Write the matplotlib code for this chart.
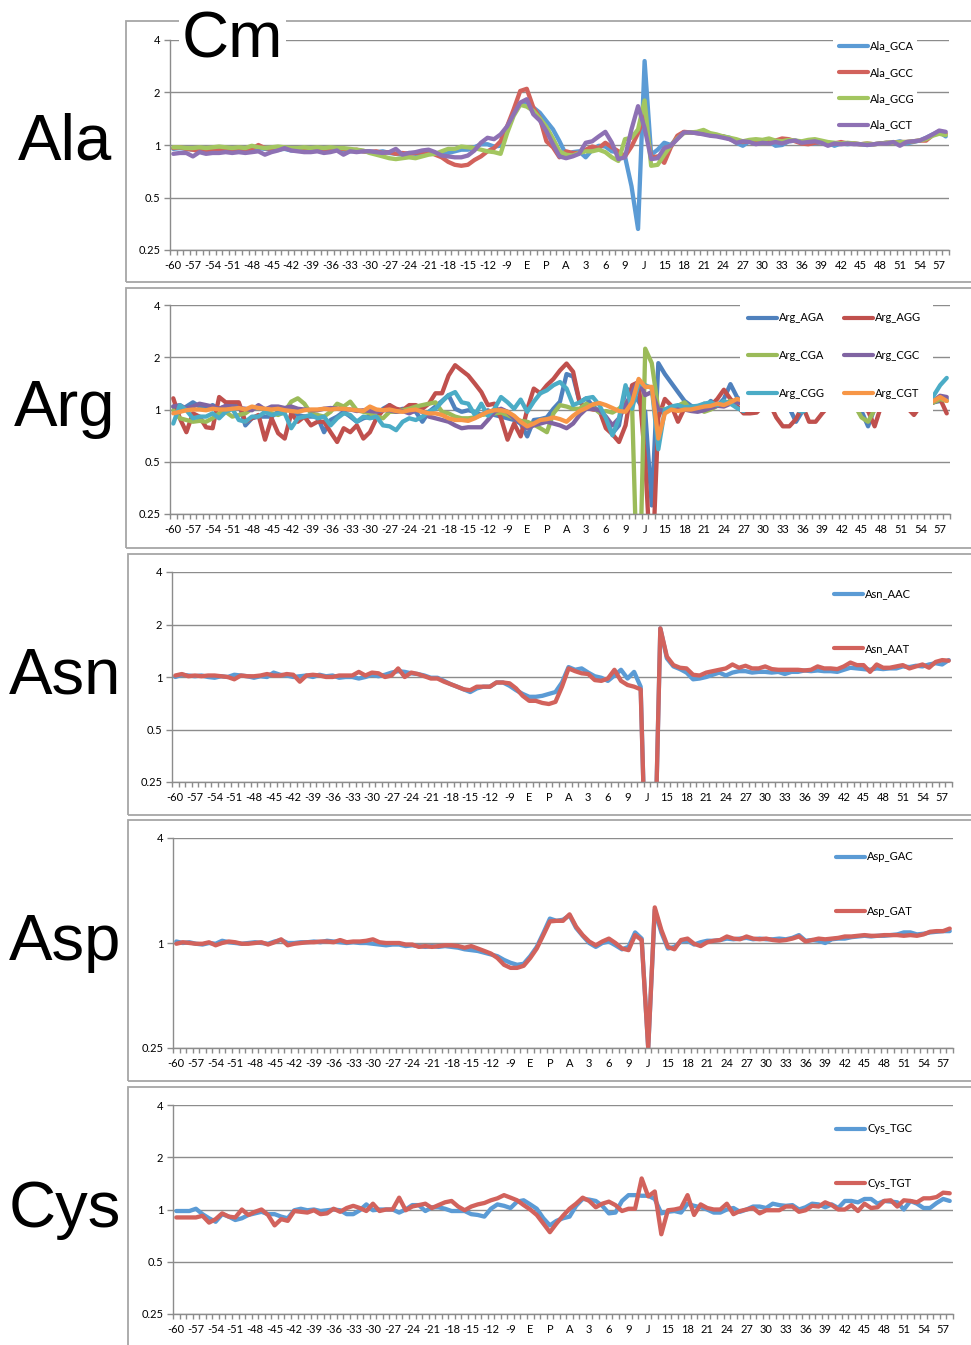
import numpy as np
import matplotlib
matplotlib.use('Agg')
import matplotlib.pyplot as plt
from matplotlib.patches import Rectangle
from matplotlib.ticker import FixedLocator, NullLocator, FuncFormatter

plt.rcParams['font.family'] = ['Lato', 'DejaVu Sans']

W, H = 971, 1345

# x categories: positions -60..58, labelled every third, some sites renamed
positions = list(range(-60, 59))
site_names = {-6: 'E', -3: 'P', 0: 'A', 12: 'J'}
tick_labels = [site_names.get(p, str(p)) for p in positions[::3]]

ala_names = ['Ala_GCA', 'Ala_GCC', 'Ala_GCG', 'Ala_GCT']
ala_gca = [
    0.95, 0.96, 0.95, 0.94, 0.95, 0.94, 0.95, 0.94, 0.95, 0.94,
    0.94, 0.95, 0.95, 0.96, 0.95, 0.94, 0.94, 0.95, 0.93, 0.93,
    0.94, 0.93, 0.94, 0.93, 0.94, 0.95, 0.93, 0.92, 0.93, 0.92,
    0.92, 0.91, 0.92, 0.90, 0.89, 0.88, 0.90, 0.89, 0.88, 0.90,
    0.90, 0.88, 0.90, 0.92, 0.94, 0.94, 0.97, 1.01, 1.01, 0.98,
    0.99, 1.26, 1.52, 1.71, 1.76, 1.64, 1.53, 1.37, 1.23, 1.05,
    0.88, 0.91, 0.92, 0.85, 0.94, 0.99, 0.98, 0.92, 0.91, 0.86,
    0.58, 0.33, 3.03, 0.88, 0.94, 1.03, 1.00, 1.10, 1.18, 1.18,
    1.17, 1.16, 1.15, 1.13, 1.12, 1.10, 1.03, 0.99, 1.05, 1.04,
    1.03, 1.05, 0.99, 1.00, 1.05, 1.06, 1.04, 1.03, 1.02, 1.04,
    1.03, 0.99, 1.02, 1.01, 1.02, 1.01, 1.00, 1.01, 1.02, 1.03,
    1.03, 1.05, 1.02, 1.04, 1.06, 1.10, 1.15, 1.19, 1.12]
ala_gcc = [
    0.96, 0.97, 0.95, 0.94, 0.92, 0.93, 0.94, 0.93, 0.95, 0.94,
    0.93, 0.94, 0.95, 1.00, 0.96, 0.95, 0.94, 0.96, 0.95, 0.94,
    0.93, 0.94, 0.93, 0.94, 0.95, 0.94, 0.95, 0.93, 0.94, 0.92,
    0.91, 0.92, 0.90, 0.91, 0.89, 0.90, 0.89, 0.90, 0.91, 0.92,
    0.88, 0.85, 0.80, 0.77, 0.76, 0.77, 0.82, 0.86, 0.92, 0.96,
    1.05, 1.28, 1.60, 2.04, 2.10, 1.64, 1.43, 1.05, 0.97, 0.85,
    0.92, 0.90, 0.90, 0.94, 0.98, 0.96, 1.03, 0.97, 0.92, 0.86,
    0.98, 1.17, 1.47, 0.85, 0.86, 0.79, 0.97, 1.13, 1.19, 1.18,
    1.17, 1.16, 1.14, 1.13, 1.12, 1.08, 1.05, 1.04, 1.05, 1.04,
    1.05, 1.04, 1.06, 1.09, 1.08, 1.05, 1.02, 1.01, 1.03, 1.04,
    1.03, 1.02, 1.04, 1.02, 1.02, 1.01, 1.02, 1.01, 1.02, 1.03,
    1.03, 1.04, 1.04, 1.05, 1.06, 1.06, 1.14, 1.20, 1.16]
ala_gcg = [
    0.97, 0.97, 0.96, 0.96, 0.97, 0.96, 0.97, 0.98, 0.97, 0.96,
    0.97, 0.96, 0.99, 0.97, 0.96, 0.97, 0.98, 0.97, 0.96, 0.96,
    0.97, 0.96, 0.97, 0.96, 0.97, 0.96, 0.96, 0.95, 0.94, 0.93,
    0.90, 0.88, 0.86, 0.84, 0.83, 0.84, 0.85, 0.84, 0.86, 0.88,
    0.89, 0.92, 0.95, 0.95, 0.98, 0.97, 0.96, 0.94, 0.92, 0.91,
    0.89, 1.17, 1.47, 1.70, 1.66, 1.57, 1.42, 1.27, 1.09, 0.92,
    0.88, 0.87, 0.90, 0.92, 0.92, 0.94, 0.91, 0.85, 0.81, 1.08,
    1.10, 1.23, 1.80, 0.76, 0.77, 0.88, 0.99, 1.09, 1.17, 1.18,
    1.19, 1.22, 1.17, 1.15, 1.12, 1.10, 1.08, 1.05, 1.07, 1.08,
    1.07, 1.09, 1.06, 1.05, 1.07, 1.06, 1.05, 1.07, 1.08, 1.06,
    1.04, 1.03, 1.02, 1.03, 1.02, 1.01, 1.02, 1.01, 1.02, 1.03,
    1.03, 1.04, 1.04, 1.05, 1.06, 1.08, 1.13, 1.16, 1.14]
ala_gct = [
    0.89, 0.90, 0.90, 0.86, 0.91, 0.89, 0.90, 0.90, 0.91, 0.90,
    0.91, 0.90, 0.91, 0.92, 0.88, 0.91, 0.93, 0.96, 0.93, 0.92,
    0.91, 0.91, 0.92, 0.90, 0.91, 0.93, 0.88, 0.92, 0.91, 0.92,
    0.92, 0.91, 0.90, 0.91, 0.95, 0.88, 0.90, 0.91, 0.93, 0.94,
    0.91, 0.87, 0.86, 0.85, 0.85, 0.87, 0.93, 1.03, 1.10, 1.08,
    1.15, 1.28, 1.50, 1.75, 1.83, 1.50, 1.38, 1.20, 1.01, 0.86,
    0.84, 0.86, 0.89, 1.03, 1.05, 1.12, 1.19, 1.03, 0.83, 0.85,
    1.23, 1.67, 1.25, 0.83, 0.84, 0.96, 0.99, 1.08, 1.18, 1.18,
    1.17, 1.15, 1.13, 1.12, 1.10, 1.08, 1.03, 1.05, 1.04, 1.01,
    1.03, 1.02, 1.04, 1.02, 1.05, 1.06, 1.03, 1.04, 1.05, 1.03,
    0.99, 1.02, 1.01, 1.02, 1.01, 1.01, 1.00, 1.01, 1.02, 1.02,
    1.04, 0.99, 1.04, 1.05, 1.06, 1.10, 1.15, 1.21, 1.19]

arg_names = ['Arg_AGA', 'Arg_AGG', 'Arg_CGA', 'Arg_CGC', 'Arg_CGG', 'Arg_CGT']
arg_aga = [
    1.04, 0.97, 1.04, 1.10, 1.04, 1.01, 1.06, 1.01, 1.04, 1.06,
    1.08, 0.81, 0.89, 0.91, 0.91, 0.91, 0.97, 1.01, 0.99, 0.93,
    0.91, 0.91, 0.91, 0.74, 0.87, 0.91, 0.97, 0.91, 0.85, 0.89,
    0.91, 0.89, 1.01, 1.06, 0.97, 1.01, 0.99, 0.97, 0.85, 0.97,
    1.04, 1.12, 1.21, 1.01, 0.97, 0.99, 0.97, 0.93, 0.99, 0.93,
    0.91, 0.89, 0.87, 0.83, 0.70, 0.87, 0.88, 0.90, 1.01, 1.11,
    1.60, 1.55, 1.10, 1.16, 1.05, 0.97, 0.87, 0.73, 0.81, 1.32,
    1.28, 1.11, 0.97, 0.28, 1.85, 1.60, 1.42, 1.26, 1.12, 1.05,
    1.02, 1.00, 1.12, 1.05, 1.15, 1.40, 1.18, 1.08, 1.10, 1.06,
    1.08, 1.05, 1.10, 1.04, 1.02, 0.85, 0.98, 1.02, 1.05, 1.08,
    1.06, 1.05, 1.08, 1.04, 1.02, 0.98, 0.80, 1.02, 1.05, 1.07,
    1.06, 1.08, 1.05, 1.04, 1.08, 1.06, 1.10, 1.12, 1.15]
arg_agg = [
    1.16, 0.89, 0.74, 0.95, 0.91, 0.79, 0.78, 1.18, 1.10, 1.10,
    1.10, 0.85, 0.89, 0.93, 0.67, 0.89, 0.73, 0.68, 0.95, 0.85,
    0.91, 0.81, 0.85, 0.85, 0.74, 0.65, 0.78, 0.74, 0.81, 0.68,
    0.74, 0.89, 0.99, 1.06, 1.01, 0.99, 1.06, 1.06, 1.01, 1.08,
    1.24, 1.24, 1.57, 1.80, 1.68, 1.57, 1.41, 1.26, 1.06, 1.08,
    0.89, 0.67, 0.83, 0.70, 1.00, 1.32, 1.24, 1.38, 1.50, 1.68,
    1.84, 1.65, 1.10, 1.02, 1.00, 0.99, 0.78, 0.72, 0.65, 0.81,
    1.38, 1.44, 0.50, 0.10, 0.90, 1.15, 1.05, 0.85, 1.02, 1.00,
    1.02, 1.08, 1.05, 1.15, 1.30, 1.15, 1.05, 0.95, 0.95, 0.96,
    1.05, 1.08, 0.90, 0.80, 0.80, 0.88, 1.05, 0.85, 0.85, 0.95,
    1.05, 1.08, 1.05, 1.10, 1.06, 1.02, 0.98, 0.80, 1.05, 1.08,
    1.10, 1.04, 1.02, 0.93, 1.05, 1.08, 1.10, 1.15, 0.95]
arg_cga = [
    0.99, 0.89, 0.87, 0.85, 0.86, 0.85, 0.89, 0.95, 0.97, 0.91,
    0.93, 0.95, 1.01, 1.04, 0.99, 0.95, 0.93, 0.97, 1.11, 1.16,
    1.08, 0.95, 0.93, 0.91, 0.97, 1.08, 1.04, 1.11, 0.99, 0.97,
    0.95, 0.91, 0.89, 0.97, 0.97, 0.99, 1.01, 1.04, 1.06, 1.08,
    1.10, 0.97, 0.95, 0.91, 0.89, 0.89, 0.90, 0.93, 0.94, 0.95,
    0.96, 0.93, 0.89, 0.86, 0.85, 0.82, 0.78, 0.74, 0.95, 1.06,
    1.04, 1.01, 1.01, 1.08, 1.03, 0.96, 0.98, 0.96, 1.01, 1.10,
    1.05, 0.05, 2.24, 1.85, 1.00, 1.00, 1.02, 1.05, 1.10, 1.00,
    1.02, 0.97, 1.00, 1.05, 1.08, 1.12, 1.10, 1.15, 1.10, 1.08,
    1.06, 1.10, 1.05, 1.04, 1.08, 1.02, 1.00, 1.05, 1.08, 1.10,
    1.05, 1.06, 1.04, 1.02, 1.05, 0.90, 0.85, 1.00, 1.04, 1.06,
    1.05, 1.08, 1.04, 1.06, 1.05, 1.08, 1.10, 1.15, 1.12]
arg_cgc = [
    1.04, 1.06, 1.01, 1.04, 1.08, 1.06, 1.04, 1.01, 1.05, 1.04,
    1.02, 1.01, 0.99, 1.06, 1.00, 1.04, 1.04, 1.02, 1.04, 1.01,
    1.00, 0.99, 0.99, 1.01, 1.02, 1.01, 1.00, 1.00, 0.98, 0.99,
    0.98, 0.97, 0.99, 0.99, 0.97, 0.98, 0.95, 0.99, 0.97, 0.91,
    0.89, 0.87, 0.85, 0.81, 0.78, 0.79, 0.79, 0.79, 0.87, 0.97,
    1.01, 0.97, 0.89, 0.84, 0.78, 0.81, 0.83, 0.85, 0.83, 0.81,
    0.78, 0.83, 0.93, 1.01, 1.01, 0.99, 0.91, 0.81, 0.89, 1.06,
    1.26, 1.47, 1.21, 1.26, 1.00, 0.98, 1.00, 1.02, 1.00, 0.98,
    0.97, 0.99, 1.02, 1.05, 1.04, 1.08, 1.10, 1.08, 1.12, 1.10,
    1.08, 1.10, 1.05, 1.06, 1.10, 1.08, 1.05, 1.06, 1.10, 1.08,
    1.06, 1.08, 1.05, 1.07, 1.04, 1.05, 1.04, 1.06, 1.05, 1.08,
    1.06, 1.05, 1.08, 1.06, 1.05, 1.10, 1.12, 1.20, 1.18]
arg_cgg = [
    0.83, 1.06, 0.99, 0.89, 0.91, 0.91, 0.95, 0.89, 0.97, 1.01,
    0.87, 0.85, 0.91, 0.91, 0.97, 0.93, 0.95, 0.95, 0.78, 0.89,
    0.91, 0.93, 0.89, 0.91, 0.81, 0.89, 0.95, 0.93, 0.85, 0.91,
    0.89, 0.91, 0.81, 0.80, 0.76, 0.85, 0.89, 0.87, 0.91, 0.97,
    1.01, 1.11, 1.21, 1.26, 1.10, 1.08, 0.93, 1.08, 0.92, 1.01,
    1.18, 1.10, 1.01, 1.14, 0.97, 1.11, 1.24, 1.29, 1.38, 1.44,
    1.32, 1.06, 1.10, 1.16, 1.18, 1.06, 0.89, 0.71, 0.89, 1.38,
    1.01, 1.41, 1.38, 1.33, 0.59, 1.00, 1.04, 1.06, 1.03, 1.04,
    1.05, 1.08, 1.10, 1.06, 1.12, 1.08, 1.02, 0.98, 1.05, 1.08,
    1.06, 1.05, 1.08, 1.04, 1.02, 1.00, 0.97, 1.02, 1.05, 1.06,
    1.08, 1.05, 1.04, 1.06, 1.05, 1.02, 1.04, 1.05, 1.06, 1.04,
    1.05, 1.06, 1.04, 1.07, 1.05, 1.10, 1.20, 1.38, 1.52]
arg_cgt = [
    0.95, 0.97, 0.99, 1.00, 1.00, 0.99, 1.01, 1.00, 1.00, 1.01,
    1.02, 1.00, 1.04, 1.02, 1.01, 1.00, 1.01, 0.99, 0.98, 0.97,
    0.99, 1.00, 1.00, 1.01, 1.00, 1.01, 1.01, 1.00, 0.99, 0.98,
    1.04, 1.00, 0.99, 1.00, 0.98, 0.97, 0.99, 1.00, 0.97, 0.95,
    0.95, 0.93, 0.89, 0.87, 0.87, 0.86, 0.89, 0.93, 0.97, 0.99,
    0.99, 0.97, 0.92, 0.85, 0.80, 0.83, 0.87, 0.88, 0.90, 0.88,
    0.85, 0.92, 0.98, 1.02, 1.07, 1.09, 1.06, 1.02, 0.98, 0.97,
    1.10, 1.50, 1.35, 1.35, 0.68, 0.95, 1.00, 0.98, 1.00, 1.00,
    1.02, 1.04, 1.05, 1.08, 1.06, 1.10, 1.15, 1.12, 1.10, 1.08,
    1.06, 1.08, 1.05, 1.06, 1.08, 1.05, 1.06, 1.07, 1.05, 1.08,
    1.06, 1.05, 1.07, 1.04, 1.06, 1.05, 1.06, 1.04, 1.05, 1.06,
    1.05, 1.06, 1.05, 1.07, 1.06, 1.08, 1.12, 1.18, 1.12]

asn_names = ['Asn_AAC', 'Asn_AAT']
asn_aac = [
    1.00, 1.03, 1.02, 1.01, 1.02, 1.00, 0.99, 1.01, 1.00, 1.03,
    1.02, 1.01, 0.99, 1.01, 1.00, 1.06, 1.03, 1.02, 1.00, 1.01,
    1.02, 1.00, 1.03, 1.01, 1.02, 0.99, 1.00, 1.00, 0.98, 1.00,
    1.03, 1.01, 1.03, 1.06, 1.08, 1.07, 1.05, 1.04, 1.02, 0.99,
    0.99, 0.95, 0.91, 0.88, 0.85, 0.82, 0.86, 0.88, 0.88, 0.93,
    0.93, 0.89, 0.84, 0.80, 0.77, 0.77, 0.78, 0.80, 0.82, 0.93,
    1.14, 1.10, 1.12, 1.06, 1.01, 0.99, 0.95, 1.02, 1.10, 0.98,
    1.07, 0.88, 0.04, 0.05, 1.90, 1.28, 1.15, 1.11, 1.06, 0.97,
    0.98, 1.00, 1.03, 1.06, 1.02, 1.06, 1.08, 1.08, 1.06, 1.07,
    1.07, 1.06, 1.07, 1.04, 1.07, 1.07, 1.09, 1.08, 1.09, 1.08,
    1.08, 1.07, 1.10, 1.13, 1.12, 1.11, 1.10, 1.12, 1.11, 1.12,
    1.12, 1.15, 1.14, 1.16, 1.15, 1.18, 1.20, 1.18, 1.25]
asn_aat = [
    1.02, 1.04, 1.01, 1.02, 1.01, 1.02, 1.02, 1.01, 1.00, 0.97,
    1.02, 1.01, 1.01, 1.02, 1.04, 1.02, 1.02, 1.04, 1.03, 0.94,
    1.02, 1.03, 1.02, 1.00, 1.00, 1.02, 1.02, 1.02, 1.07, 1.02,
    1.06, 1.05, 1.00, 1.02, 1.12, 1.00, 1.06, 1.04, 1.01, 0.98,
    0.98, 0.94, 0.91, 0.88, 0.85, 0.84, 0.88, 0.88, 0.88, 0.93,
    0.93, 0.92, 0.86, 0.78, 0.73, 0.73, 0.71, 0.70, 0.72, 0.88,
    1.12, 1.08, 1.05, 1.04, 0.96, 0.95, 0.98, 1.10, 0.95, 0.90,
    0.88, 0.85, 0.04, 0.05, 1.90, 1.31, 1.17, 1.13, 1.12, 1.03,
    1.02, 1.06, 1.08, 1.10, 1.12, 1.18, 1.13, 1.16, 1.12, 1.12,
    1.15, 1.11, 1.10, 1.10, 1.10, 1.10, 1.09, 1.10, 1.15, 1.12,
    1.12, 1.11, 1.15, 1.21, 1.17, 1.17, 1.07, 1.18, 1.13, 1.13,
    1.15, 1.17, 1.12, 1.15, 1.18, 1.13, 1.22, 1.25, 1.24]

asp_names = ['Asp_GAC', 'Asp_GAT']
asp_gac = [
    1.02, 1.00, 1.01, 0.99, 0.98, 1.00, 0.99, 1.03, 1.01, 1.00,
    0.99, 1.00, 1.01, 1.00, 0.99, 1.02, 1.04, 1.00, 1.00, 1.01,
    1.01, 1.02, 1.01, 1.03, 1.02, 1.01, 1.00, 1.01, 1.00, 1.00,
    0.99, 0.98, 0.97, 0.98, 0.98, 0.96, 0.97, 0.96, 0.95, 0.96,
    0.95, 0.96, 0.95, 0.94, 0.92, 0.91, 0.90, 0.88, 0.86, 0.84,
    0.80, 0.77, 0.75, 0.76, 0.84, 0.95, 1.14, 1.38, 1.34, 1.36,
    1.44, 1.22, 1.10, 1.00, 0.95, 1.00, 1.02, 0.97, 0.92, 0.95,
    1.15, 1.06, 0.25, 1.55, 1.15, 0.93, 0.95, 1.02, 1.03, 0.98,
    1.01, 1.03, 1.03, 1.04, 1.06, 1.05, 1.06, 1.07, 1.05, 1.06,
    1.05, 1.05, 1.06, 1.05, 1.07, 1.11, 1.03, 1.04, 1.03, 1.00,
    1.05, 1.06, 1.06, 1.08, 1.09, 1.10, 1.09, 1.10, 1.10, 1.11,
    1.12, 1.15, 1.15, 1.12, 1.13, 1.15, 1.16, 1.17, 1.17]
asp_gat = [
    0.99, 1.01, 1.00, 0.99, 0.99, 1.01, 0.97, 1.00, 1.02, 1.01,
    0.99, 0.99, 1.00, 1.01, 0.98, 1.01, 1.05, 0.97, 0.99, 1.00,
    1.01, 1.01, 1.02, 1.02, 1.01, 1.04, 1.01, 1.02, 1.02, 1.03,
    1.05, 1.01, 1.00, 1.00, 1.00, 0.98, 0.98, 0.95, 0.96, 0.95,
    0.96, 0.97, 0.97, 0.96, 0.94, 0.96, 0.93, 0.90, 0.87, 0.82,
    0.75, 0.72, 0.72, 0.74, 0.82, 0.93, 1.11, 1.33, 1.34, 1.34,
    1.46, 1.24, 1.11, 1.02, 0.97, 1.02, 1.06, 1.00, 0.93, 0.91,
    1.11, 1.04, 0.25, 1.60, 1.19, 0.95, 0.92, 1.04, 1.06, 0.99,
    0.96, 1.01, 1.03, 1.04, 1.09, 1.06, 1.05, 1.09, 1.06, 1.05,
    1.06, 1.04, 1.03, 1.04, 1.06, 1.09, 1.02, 1.04, 1.06, 1.05,
    1.06, 1.07, 1.09, 1.09, 1.10, 1.11, 1.10, 1.10, 1.11, 1.11,
    1.11, 1.10, 1.11, 1.10, 1.12, 1.16, 1.17, 1.17, 1.21]

cys_names = ['Cys_TGC', 'Cys_TGT']
cys_tgc = [
    0.98, 0.98, 0.98, 1.01, 0.94, 0.89, 0.85, 0.94, 0.91, 0.87,
    0.89, 0.93, 0.95, 0.97, 0.94, 0.94, 0.91, 0.89, 0.99, 1.01,
    0.99, 1.00, 0.98, 0.99, 1.00, 0.99, 0.94, 0.94, 0.99, 1.07,
    0.99, 1.00, 1.00, 1.00, 0.96, 1.00, 1.06, 1.06, 0.98, 1.03,
    1.03, 1.01, 0.98, 0.98, 0.98, 0.94, 0.93, 0.91, 1.01, 1.07,
    1.05, 1.02, 1.11, 1.13, 1.07, 1.01, 0.89, 0.81, 0.86, 0.89,
    0.91, 1.05, 1.15, 1.14, 1.12, 1.05, 0.95, 0.96, 1.12, 1.21,
    1.21, 1.20, 1.20, 1.15, 0.95, 0.97, 0.98, 0.96, 1.08, 1.05,
    1.03, 1.00, 0.96, 0.96, 1.00, 1.02, 0.97, 1.00, 1.04, 1.04,
    1.02, 1.08, 1.06, 1.05, 1.06, 1.00, 1.03, 1.08, 1.07, 1.03,
    1.07, 1.02, 1.12, 1.12, 1.10, 1.15, 1.15, 1.08, 1.12, 1.11,
    1.10, 1.00, 1.12, 1.08, 1.02, 1.02, 1.09, 1.15, 1.12]
cys_tgt = [
    0.90, 0.90, 0.90, 0.90, 0.92, 0.84, 0.88, 0.95, 0.91, 0.90,
    1.00, 0.93, 0.97, 1.00, 0.93, 0.81, 0.88, 0.86, 0.98, 0.97,
    0.96, 0.99, 0.94, 0.95, 1.01, 0.97, 1.02, 1.05, 1.02, 0.98,
    1.08, 0.98, 1.00, 1.00, 1.17, 0.99, 1.04, 1.06, 1.08, 1.02,
    1.06, 1.10, 1.12, 1.04, 0.99, 1.04, 1.07, 1.09, 1.13, 1.16,
    1.21, 1.17, 1.13, 1.06, 1.00, 0.93, 0.83, 0.74, 0.83, 0.92,
    1.01, 1.08, 1.17, 1.12, 1.03, 1.08, 1.11, 1.06, 0.98, 1.01,
    1.01, 1.51, 1.19, 1.27, 0.72, 0.99, 1.00, 1.02, 1.21, 0.93,
    1.07, 1.02, 1.00, 1.00, 1.08, 0.94, 0.98, 1.00, 1.02, 0.95,
    0.99, 0.99, 0.99, 1.04, 1.04, 0.97, 0.99, 1.05, 1.04, 1.10,
    1.06, 1.00, 1.00, 1.06, 0.98, 1.08, 1.02, 1.03, 1.12, 1.13,
    1.04, 1.13, 1.12, 1.10, 1.16, 1.16, 1.18, 1.25, 1.24]

AXIS_GRAY = '#8c8c8c'
FRAME_GRAY = '#a6a6a6'
light_colors = ['#5b9bd5', '#d2625c', '#a3c660', '#8e71b4']
office_colors = ['#4f81bd', '#c0504d', '#9bbb59', '#8064a2', '#4bacc6', '#f79646']

fig = plt.figure(figsize=(W / 100, H / 100), dpi=100)


def fx(x):
    return x / W


def fy(y):
    return 1 - y / H


def add_frame(left, top, bottom):
    fig.add_artist(Rectangle((fx(left), fy(bottom)), fx(W + 10 - left), (bottom - top) / H,
                             transform=fig.transFigure, fill=False,
                             ec=FRAME_GRAY, lw=1.3, zorder=1))


def draw_panel(box, series, names, colors, yticks, legend_xy, legend_kw, cover=None):
    left, top, right, bottom = box
    ax = fig.add_axes([fx(left), fy(bottom), (right - left) / W, (bottom - top) / H])
    x = np.arange(len(positions))
    lines = []
    for vals, c in zip(series, colors):
        ln, = ax.plot(x, vals, color=c, lw=3.1, solid_joinstyle='round',
                      solid_capstyle='round')
        lines.append(ln)
    ax.set_yscale('log', base=2)
    ax.set_ylim(0.25, 4)
    ax.set_xlim(-0.5, len(positions) - 0.5)
    ax.yaxis.set_major_locator(FixedLocator(yticks))
    ax.yaxis.set_minor_locator(NullLocator())
    ax.yaxis.set_major_formatter(FuncFormatter(lambda v, _: f'{v:g}'))
    ax.set_xticks(x[::3])
    ax.set_xticklabels(tick_labels)
    ax.set_xticks(np.arange(-0.5, len(positions), 1), minor=True)
    ax.tick_params(axis='x', which='major', length=0, pad=7, labelsize=8, colors='black')
    ax.tick_params(axis='x', which='minor', length=3.5, width=1, color=AXIS_GRAY)
    ax.tick_params(axis='y', length=4, width=1, color=AXIS_GRAY, pad=3, labelsize=8)
    ax.grid(axis='y', which='major', color=AXIS_GRAY, lw=1)
    ax.set_axisbelow(True)
    for s in ('top', 'right'):
        ax.spines[s].set_visible(False)
    for s in ('left', 'bottom'):
        ax.spines[s].set_color(AXIS_GRAY)
        ax.spines[s].set_linewidth(1)

    # white legend area that hides the series and grid behind it
    if cover is not None:
        cl, ct, cr, cb = cover
        ax.add_patch(Rectangle((fx(cl), fy(cb)), (cr - cl) / W, (cb - ct) / H,
                               transform=fig.transFigure, fc='white', ec='none',
                               zorder=4, clip_on=False))

    order = legend_kw.pop('order', list(range(len(lines))))
    leg = ax.legend([lines[i] for i in order], [names[i] for i in order],
                    loc='upper left', bbox_to_anchor=(fx(legend_xy[0]), fy(legend_xy[1])),
                    bbox_transform=fig.transFigure, borderaxespad=0, fontsize=8,
                    handlelength=2.6, handletextpad=0.15, frameon=False,
                    borderpad=0.4, **legend_kw)
    leg.set_zorder(5)
    for h in leg.legend_handles:
        h.set_linewidth(3)
    return ax


# frames around each chart block
add_frame(126, 21, 282)
add_frame(126, 288, 548)
add_frame(128, 554, 815)
add_frame(128, 820, 1081)
add_frame(128, 1087, 1352)

full_ticks = [0.25, 0.5, 1, 2, 4]

draw_panel((170, 40, 949, 250), [ala_gca, ala_gcc, ala_gcg, ala_gct], ala_names,
           light_colors, full_ticks, (835, 36), dict(labelspacing=1.38),
           cover=(833, 35, 917, 134))
draw_panel((170, 305, 950, 514), [arg_aga, arg_agg, arg_cga, arg_cgc, arg_cgg, arg_cgt],
           arg_names, office_colors, full_ticks, (744, 308),
           dict(ncol=2, labelspacing=2.4, columnspacing=1.75, order=[0, 2, 4, 1, 3, 5]),
           cover=(740, 302, 933, 412))
draw_panel((172, 572, 952, 782), [asn_aac, asn_aat], asn_names,
           light_colors[:2], full_ticks, (830, 584), dict(labelspacing=3.9))
draw_panel((173, 838, 953, 1048), [asp_gac, asp_gat], asp_names,
           light_colors[:2], [0.25, 1, 4], (832, 847), dict(labelspacing=3.9))
draw_panel((173, 1105, 953, 1314), [cys_tgc, cys_tgt], cys_names,
           light_colors[:2], full_ticks, (832, 1119), dict(labelspacing=3.9))

# big amino-acid labels and the modification name
big = dict(fontsize=47, family=['Liberation Sans', 'DejaVu Sans'], va='baseline', zorder=3)
for label, base in [('Ala', 160), ('Arg', 426), ('Asn', 694), ('Asp', 960), ('Cys', 1227)]:
    fig.text(fx(65), fy(base), label, ha='center', **big)
fig.text(fx(182), fy(58), 'Cm', ha='left',
         bbox=dict(fc='white', ec='none', pad=2), **big)

fig.savefig('out.png', dpi=100, facecolor='white')
